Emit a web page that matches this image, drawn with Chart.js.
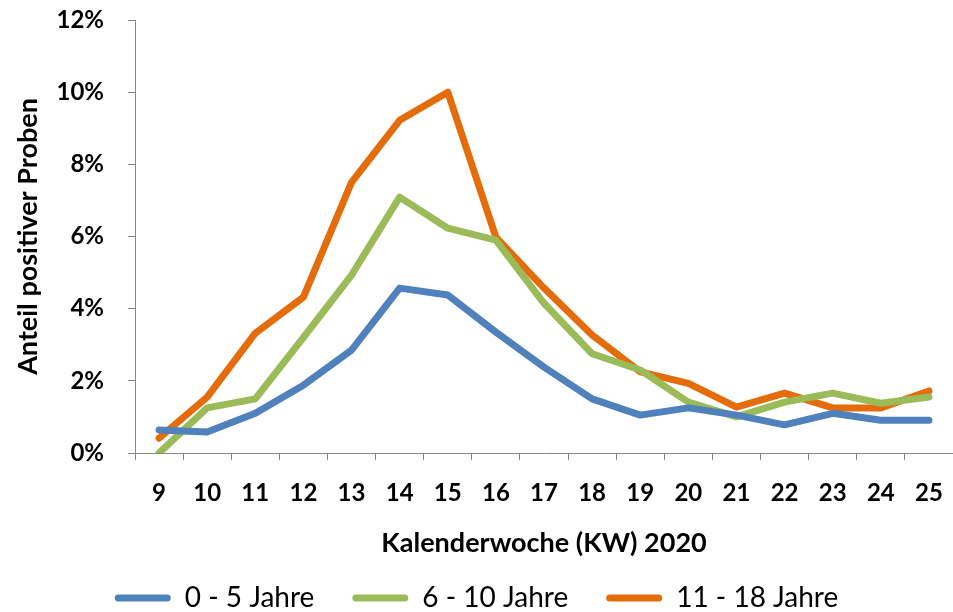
<!DOCTYPE html>
<html lang="de">
<head>
    <meta charset="UTF-8">
    <title>Anteil positiver Proben nach Kalenderwoche</title>
    <script src="https://cdn.jsdelivr.net/npm/chart.js"></script>
    <style>
        body { margin: 0; padding: 0; background: #fff; }
        .wrap { width: 953px; height: 612px; }
    </style>
</head>
<body>
    <div class="wrap">
        <canvas id="kwChart" width="953" height="612"></canvas>
    </div>
    <script>
        // Kalenderwochen 2020
        const weeks = ['9', '10', '11', '12', '13', '14', '15', '16', '17', '18', '19', '20', '21', '22', '23', '24', '25'];
        // Anteil positiver Proben in %
        const age0to5 = [0.64, 0.58, 1.1, 1.88, 2.85, 4.57, 4.38, 3.35, 2.38, 1.5, 1.05, 1.25, 1.05, 0.78, 1.1, 0.91, 0.91];
        const age6to10 = [0, 1.25, 1.5, 3.2, 4.93, 7.09, 6.23, 5.9, 4.15, 2.75, 2.3, 1.41, 1.0, 1.41, 1.66, 1.38, 1.55];
        const age11to18 = [0.41, 1.55, 3.32, 4.32, 7.5, 9.22, 10.0, 5.98, 4.57, 3.27, 2.25, 1.93, 1.27, 1.66, 1.25, 1.25, 1.72];
        const seriesNames = ['0 - 5 Jahre', '6 - 10 Jahre', '11 - 18 Jahre'];

        const fontFam = 'Lato, "Open Sans", Arial, sans-serif';
        const axisGray = '#868686';

        function lineSet(label, data, color) {
            return {
                label: label,
                data: data,
                borderColor: color,
                backgroundColor: color,
                borderWidth: 7,
                pointRadius: 0,
                tension: 0,
                fill: false,
                borderJoinStyle: 'round',
                borderCapStyle: 'round'
            };
        }

        new Chart(document.getElementById('kwChart').getContext('2d'), {
            type: 'line',
            data: {
                labels: weeks,
                datasets: [
                    lineSet(seriesNames[0], age0to5, '#4f81bd'),
                    lineSet(seriesNames[1], age6to10, '#9bbb59'),
                    lineSet(seriesNames[2], age11to18, '#e46c0a')
                ]
            },
            options: {
                responsive: false,
                animation: false,
                layout: { padding: { top: 0, right: 0, left: 0, bottom: -10 } },
                plugins: {
                    tooltip: { enabled: false },
                    legend: {
                        position: 'bottom',
                        labels: {
                            color: '#000',
                            font: { family: fontFam, size: 28 },
                            boxWidth: 56,
                            boxHeight: 7,
                            useBorderRadius: true,
                            borderRadius: 3.5,
                            padding: 38,
                            generateLabels: chart =>
                                Chart.defaults.plugins.legend.labels.generateLabels(chart)
                                    .map(l => Object.assign(l, { lineWidth: 0 }))
                        }
                    }
                },
                scales: {
                    x: {
                        offset: true,
                        afterFit: s => { s.height = 93; s.paddingLeft = 0; s.paddingRight = 0; },
                        grid: {
                            display: true,
                            offset: true,
                            drawOnChartArea: false,
                            drawTicks: true,
                            tickLength: 7,
                            color: axisGray
                        },
                        border: { color: axisGray, width: 1 },
                        ticks: {
                            color: '#000',
                            font: { family: fontFam, size: 24, weight: 'bold' },
                            padding: 19,
                            maxRotation: 0
                        },
                        title: {
                            display: true,
                            text: 'Kalenderwoche (KW) 2020',
                            color: '#000',
                            font: { family: fontFam, size: 27, weight: 'bold' },
                            padding: { top: 19, bottom: -13 }
                        }
                    },
                    y: {
                        min: 0,
                        max: 12,
                        afterFit: s => { s.width = 135; s.paddingTop = 20; s.paddingBottom = 0; },
                        grid: {
                            display: true,
                            drawOnChartArea: false,
                            drawTicks: true,
                            tickLength: 7,
                            color: axisGray
                        },
                        border: { color: axisGray, width: 1 },
                        ticks: {
                            stepSize: 2,
                            color: '#000',
                            font: { family: fontFam, size: 24, weight: 'bold' },
                            padding: 24,
                            callback: v => v + '%'
                        },
                        title: {
                            display: true,
                            text: 'Anteil positiver Proben',
                            color: '#000',
                            font: { family: fontFam, size: 27, weight: 'bold' },
                            padding: { top: 12, bottom: 0 }
                        }
                    }
                }
            }
        });
    </script>
</body>
</html>
